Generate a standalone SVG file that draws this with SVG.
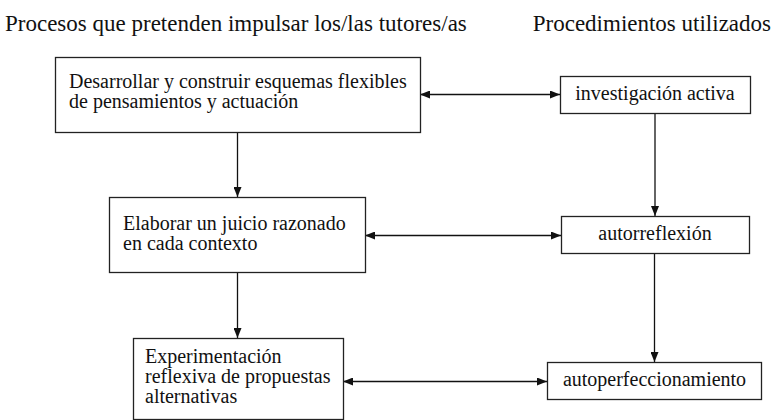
<svg xmlns="http://www.w3.org/2000/svg" width="772" height="420" viewBox="0 0 772 420">
<defs>
<marker id="ah" viewBox="0 0 10 8" refX="10" refY="4" markerWidth="10" markerHeight="8" markerUnits="userSpaceOnUse" orient="auto-start-reverse">
<path d="M0,0 L10,4 L0,8 Z" fill="#111"/>
</marker>
<style>
.box{fill:#fff;stroke:#222;stroke-width:1.3}
.lbl{fill:#111}
.ttl{fill:#111;font-size:23px}
.c{text-anchor:middle}
.con{stroke:#111;stroke-width:1.3}
</style>
</defs>
<rect x="0" y="0" width="772" height="420" fill="#fff"/>
<g font-family="Liberation Serif, serif" font-size="20">
<g id="titles">
<text class="ttl" x="5" y="31">Procesos que pretenden impulsar los/las tutores/as</text>
<text class="ttl" x="771" y="31" text-anchor="end">Procedimientos utilizados</text>
</g>
<g id="connectors">
<line class="con" x1="237.5" y1="132" x2="237.5" y2="197" marker-end="url(#ah)"/>
<line class="con" x1="237.5" y1="272" x2="237.5" y2="338" marker-end="url(#ah)"/>
<line class="con" x1="655" y1="113" x2="655" y2="216" marker-end="url(#ah)"/>
<line class="con" x1="654.5" y1="253" x2="654.5" y2="362" marker-end="url(#ah)"/>
<line class="con" x1="420" y1="94.5" x2="560" y2="94.5" marker-start="url(#ah)" marker-end="url(#ah)"/>
<line class="con" x1="365" y1="235.5" x2="561" y2="235.5" marker-start="url(#ah)" marker-end="url(#ah)"/>
<line class="con" x1="343" y1="381.5" x2="547" y2="381.5" marker-start="url(#ah)" marker-end="url(#ah)"/>
</g>
<g id="n1">
<rect class="box" x="55.5" y="57.5" width="365" height="75"/>
<text class="lbl" x="69" y="88">Desarrollar y construir esquemas flexibles</text>
<text class="lbl" x="69" y="108">de pensamientos y actuación</text>
</g>
<g id="n2">
<rect class="box" x="560.5" y="76.5" width="190" height="37"/>
<text class="lbl c" x="655" y="100">investigación activa</text>
</g>
<g id="n3">
<rect class="box" x="109.5" y="197.5" width="256" height="75"/>
<text class="lbl" x="123" y="230">Elaborar un juicio razonado</text>
<text class="lbl" x="123" y="250">en cada contexto</text>
</g>
<g id="n4">
<rect class="box" x="561.5" y="216.5" width="188" height="37"/>
<text class="lbl c" x="655" y="240">autorreflexión</text>
</g>
<g id="n5">
<rect class="box" x="133.5" y="338.5" width="210" height="81"/>
<text class="lbl" x="145" y="363">Experimentación</text>
<text class="lbl" x="145" y="383">reflexiva de propuestas</text>
<text class="lbl" x="145" y="403">alternativas</text>
</g>
<g id="n6">
<rect class="box" x="547.5" y="362.5" width="214" height="37"/>
<text class="lbl c" x="654.5" y="386">autoperfeccionamiento</text>
</g>
</g>
</svg>
